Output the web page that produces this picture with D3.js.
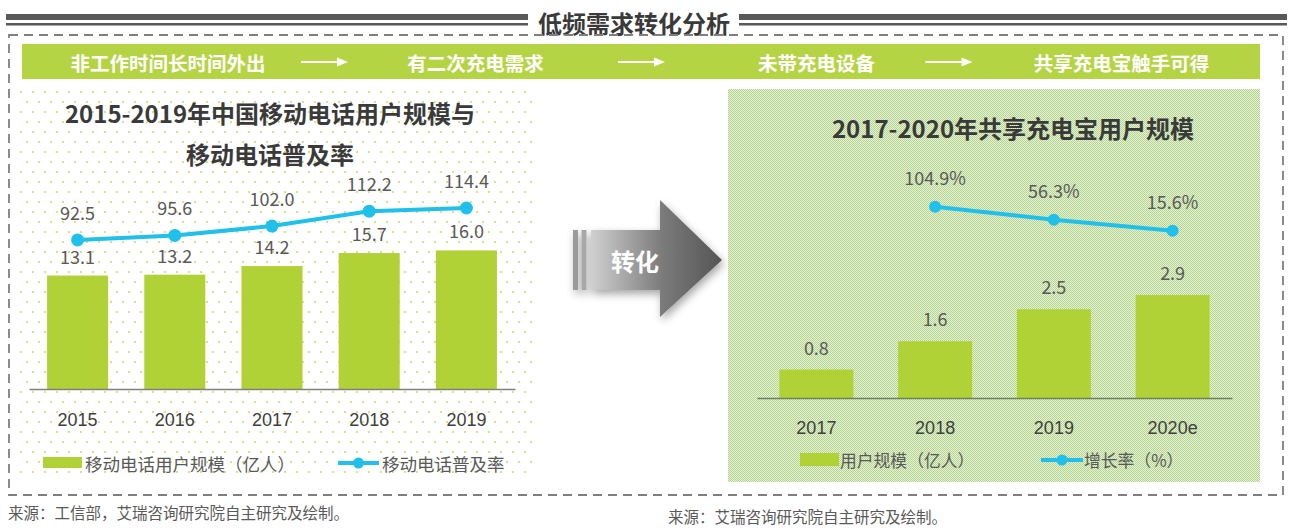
<!DOCTYPE html>
<html><head><meta charset="utf-8">
<script src="https://cdn.jsdelivr.net/npm/d3@7"></script>
<style>html,body{margin:0;padding:0;background:#fff;} svg{display:block;font-family:"Noto Sans CJK SC","Noto Sans",sans-serif;}</style>
</head><body><svg id="c" width="1316" height="531"></svg>
<script>
// ---------- data ----------
const mainTitle = "低频需求转化分析";
const flowSteps = ["非工作时间长时间外出", "有二次充电需求", "未带充电设备", "共享充电宝触手可得"];
const leftTitle = ["2015-2019年中国移动电话用户规模与", "移动电话普及率"];
const leftYears = ["2015", "2016", "2017", "2018", "2019"];
const leftUsers = [13.1, 13.2, 14.2, 15.7, 16.0];
const leftRate = [92.5, 95.6, 102.0, 112.2, 114.4];
const leftLegend = ["移动电话用户规模（亿人）", "移动电话普及率"];
const rightTitle = "2017-2020年共享充电宝用户规模";
const rightYears = ["2017", "2018", "2019", "2020e"];
const rightUsers = [0.8, 1.6, 2.5, 2.9];
const rightGrowth = [null, 104.9, 56.3, 15.6];
const rightLegend = ["用户规模（亿人）", "增长率（%）"];
const arrowLabel = "转化";
const sources = ["来源：工信部，艾瑞咨询研究院自主研究及绘制。", "来源：艾瑞咨询研究院自主研究及绘制。"];

// ---------- styles ----------
const BAR = "#b1d236", LINE = "#20c0ea", BANNER = "#b5d444", DARK = "#3a3a3a", LBL = "#595959";

const svg = d3.select("#c");
const defs = svg.append("defs");

// dotted pattern (left)
const pd = defs.append("pattern").attr("id", "dots").attr("patternUnits", "userSpaceOnUse")
  .attr("width", 12).attr("height", 20);
pd.append("rect").attr("width", 12).attr("height", 20).attr("fill", "#fff");
pd.append("rect").attr("x", 2).attr("y", 1).attr("width", 2).attr("height", 2).attr("fill", "#d3e190");
pd.append("rect").attr("x", 8).attr("y", 11).attr("width", 2).attr("height", 2).attr("fill", "#d3e190");

// checker pattern (right)
const pc = defs.append("pattern").attr("id", "check").attr("patternUnits", "userSpaceOnUse")
  .attr("width", 2).attr("height", 2);
pc.append("rect").attr("width", 2).attr("height", 2).attr("fill", "#e6f2da");
pc.append("rect").attr("width", 1).attr("height", 1).attr("fill", "#b4d48c");
pc.append("rect").attr("x", 1).attr("y", 1).attr("width", 1).attr("height", 1).attr("fill", "#b4d48c");

// arrow gradients
const g1 = defs.append("linearGradient").attr("id", "agrad").attr("x1", 0).attr("x2", 1).attr("y1", 0).attr("y2", 0);
g1.append("stop").attr("offset", "0%").attr("stop-color", "#d0d0d0");
g1.append("stop").attr("offset", "55%").attr("stop-color", "#7a7a7a");
g1.append("stop").attr("offset", "100%").attr("stop-color", "#555");
const f = defs.append("filter").attr("id", "shadow").attr("x", "-20%").attr("y", "-20%").attr("width", "150%").attr("height", "150%");
f.append("feDropShadow").attr("dx", 2).attr("dy", 4).attr("stdDeviation", 4).attr("flood-color", "#000").attr("flood-opacity", 0.35);

// ---------- header ----------
svg.append("rect").attr("x", 6).attr("y", 14).attr("width", 522).attr("height", 6).attr("fill", "#595959");
svg.append("rect").attr("x", 6).attr("y", 23).attr("width", 522).attr("height", 2.5).attr("fill", "#595959");
svg.append("rect").attr("x", 739).attr("y", 14).attr("width", 548).attr("height", 6).attr("fill", "#595959");
svg.append("rect").attr("x", 739).attr("y", 23).attr("width", 548).attr("height", 2.5).attr("fill", "#595959");
svg.append("text").attr("x", 634).attr("y", 22).attr("text-anchor", "middle").attr("dominant-baseline", "central")
  .attr("font-size", 24).attr("font-weight", "bold").attr("fill", DARK).text(mainTitle);

// dashed outer box
svg.append("rect").attr("x", 9).attr("y", 35).attr("width", 1274).attr("height", 460)
  .attr("fill", "none").attr("stroke", "#7f7f7f").attr("stroke-width", 1.8).attr("stroke-dasharray", "9,6");

// banner
svg.append("rect").attr("x", 22).attr("y", 44).attr("width", 1238).attr("height", 35).attr("fill", BANNER);
const stepX = [168, 475.5, 816.5, 1121.5];
flowSteps.forEach((s, i) => {
  svg.append("text").attr("x", stepX[i]).attr("y", 62).attr("text-anchor", "middle").attr("dominant-baseline", "central")
    .attr("font-size", 19.5).attr("font-weight", "bold").attr("fill", "#fff").text(s);
});
[324, 641, 948.5].forEach(cx => {
  svg.append("line").attr("x1", cx - 23).attr("x2", cx + 16).attr("y1", 62).attr("y2", 62).attr("stroke", "#fff").attr("stroke-width", 2);
  svg.append("path").attr("d", `M${cx + 24},62 L${cx + 13},57.5 L${cx + 13},66.5 Z`).attr("fill", "#fff");
});

// ---------- left panel ----------
svg.append("rect").attr("x", 20).attr("y", 88).attr("width", 514).attr("height", 390).attr("fill", "url(#dots)");
leftTitle.forEach((t, i) => {
  svg.append("text").attr("x", 270).attr("y", i === 0 ? 112 : 153).attr("text-anchor", "middle").attr("dominant-baseline", "central")
    .attr("font-size", 24).attr("font-weight", "bold").attr("fill", DARK).text(t);
});
const lx = d3.scaleBand().domain(leftYears).range([29, 515]).paddingInner(0.372).paddingOuter(0.186);
const ly = d3.scaleLinear().domain([0, 20]).range([389, 215.8]);
const lr = d3.scaleLinear().domain([0, 130]).range([375, 185.2]);
const L = svg.append("g");
L.selectAll("rect.bar").data(leftUsers).join("rect").attr("class", "bar")
  .attr("x", (d, i) => lx(leftYears[i])).attr("width", lx.bandwidth())
  .attr("y", d => ly(d)).attr("height", d => ly(0) - ly(d)).attr("fill", BAR);
const lAxis = L.append("g").attr("transform", "translate(0,389)").call(d3.axisBottom(lx).tickSize(0).tickPadding(22));
lAxis.select(".domain").attr("stroke", "#808080").attr("stroke-width", 1.5);
lAxis.selectAll("text").attr("font-size", 18).attr("fill", "#404040").attr("font-family", null).attr("dy", "0.32em").attr("y", 31);
L.selectAll("text.bl").data(leftUsers).join("text").attr("class", "bl")
  .attr("x", (d, i) => lx(leftYears[i]) + lx.bandwidth() / 2).attr("y", d => ly(d) - 20)
  .attr("text-anchor", "middle").attr("dominant-baseline", "central").attr("font-size", 18).attr("fill", LBL)
  .text(d => d.toFixed(1));
const lline = d3.line().x((d, i) => lx(leftYears[i]) + lx.bandwidth() / 2).y(d => lr(d));
L.append("path").datum(leftRate).attr("d", lline).attr("fill", "none").attr("stroke", LINE).attr("stroke-width", 4);
L.selectAll("circle.pt").data(leftRate).join("circle").attr("class", "pt")
  .attr("cx", (d, i) => lx(leftYears[i]) + lx.bandwidth() / 2).attr("cy", d => lr(d)).attr("r", 6.5).attr("fill", LINE);
L.selectAll("text.ll").data(leftRate).join("text").attr("class", "ll")
  .attr("x", (d, i) => lx(leftYears[i]) + lx.bandwidth() / 2).attr("y", d => lr(d) - 28)
  .attr("text-anchor", "middle").attr("dominant-baseline", "central").attr("font-size", 18).attr("fill", LBL)
  .text(d => d.toFixed(1));
// legend
L.append("rect").attr("x", 43).attr("y", 457).attr("width", 39).attr("height", 11).attr("fill", BAR);
L.append("text").attr("x", 85).attr("y", 463).attr("dominant-baseline", "central").attr("font-size", 17.5).attr("fill", LBL).text(leftLegend[0]);
L.append("line").attr("x1", 338).attr("x2", 379).attr("y1", 463).attr("y2", 463).attr("stroke", LINE).attr("stroke-width", 4);
L.append("circle").attr("cx", 358.5).attr("cy", 463).attr("r", 5.5).attr("fill", LINE);
L.append("text").attr("x", 382).attr("y", 463).attr("dominant-baseline", "central").attr("font-size", 17.5).attr("fill", LBL).text(leftLegend[1]);

// ---------- middle arrow ----------
const A = svg.append("g").attr("filter", "url(#shadow)");
A.append("rect").attr("x", 573).attr("y", 230).attr("width", 5).attr("height", 60).attr("fill", "#9a9a9a");
A.append("rect").attr("x", 581.5).attr("y", 230).attr("width", 5).attr("height", 60).attr("fill", "#a8a8a8");
A.append("path").attr("d", "M591,230 L660,230 L660,200 L722,260 L660,317 L660,290 L591,290 Z").attr("fill", "url(#agrad)");
svg.append("text").attr("x", 635).attr("y", 260).attr("text-anchor", "middle").attr("dominant-baseline", "central")
  .attr("font-size", 24).attr("font-weight", "bold").attr("fill", "#fff").text(arrowLabel);

// ---------- right panel ----------
svg.append("rect").attr("x", 728).attr("y", 89).attr("width", 532).attr("height", 393).attr("fill", "url(#check)");
svg.append("text").attr("x", 1013).attr("y", 127).attr("text-anchor", "middle").attr("dominant-baseline", "central")
  .attr("font-size", 24).attr("font-weight", "bold").attr("fill", DARK).text(rightTitle);
const rx = d3.scaleBand().domain(rightYears).range([757, 1232]).paddingInner(0.377).paddingOuter(0.1885);
const ry = d3.scaleLinear().domain([0, 4]).range([398, 256]);
const rg = d3.scaleLinear().domain([0, 100]).range([234.9, 208.0]);
const R = svg.append("g");
R.selectAll("rect.bar").data(rightUsers).join("rect").attr("class", "bar")
  .attr("x", (d, i) => rx(rightYears[i])).attr("width", rx.bandwidth())
  .attr("y", d => ry(d)).attr("height", d => ry(0) - ry(d)).attr("fill", BAR);
const rAxis = R.append("g").attr("transform", "translate(0,398)").call(d3.axisBottom(rx).tickSize(0));
rAxis.select(".domain").attr("stroke", "#6f7f62").attr("stroke-width", 1.5);
rAxis.selectAll("text").attr("font-size", 18).attr("fill", "#404040").attr("font-family", null).attr("dy", "0.32em").attr("y", 30);
R.selectAll("text.bl").data(rightUsers).join("text").attr("class", "bl")
  .attr("x", (d, i) => rx(rightYears[i]) + rx.bandwidth() / 2).attr("y", d => ry(d) - 23)
  .attr("text-anchor", "middle").attr("dominant-baseline", "central").attr("font-size", 18).attr("fill", LBL)
  .text(d => d.toFixed(1));
const gPts = rightGrowth.map((v, i) => ({ v, k: rightYears[i] })).filter(d => d.v !== null);
const rline = d3.line().x(d => rx(d.k) + rx.bandwidth() / 2).y(d => rg(d.v));
R.append("path").datum(gPts).attr("d", rline).attr("fill", "none").attr("stroke", LINE).attr("stroke-width", 4);
R.selectAll("circle.pt").data(gPts).join("circle").attr("class", "pt")
  .attr("cx", d => rx(d.k) + rx.bandwidth() / 2).attr("cy", d => rg(d.v)).attr("r", 6).attr("fill", LINE);
R.selectAll("text.gl").data(gPts).join("text").attr("class", "gl")
  .attr("x", d => rx(d.k) + rx.bandwidth() / 2).attr("y", d => rg(d.v) - 30)
  .attr("text-anchor", "middle").attr("dominant-baseline", "central").attr("font-size", 18).attr("fill", LBL)
  .text(d => d.v.toFixed(1) + "%");
// legend
R.append("rect").attr("x", 800).attr("y", 453).attr("width", 39).attr("height", 13).attr("fill", BAR);
R.append("text").attr("x", 840).attr("y", 460).attr("dominant-baseline", "central").attr("font-size", 16.8).attr("fill", LBL).text(rightLegend[0]);
R.append("line").attr("x1", 1041).attr("x2", 1083).attr("y1", 460).attr("y2", 460).attr("stroke", LINE).attr("stroke-width", 4);
R.append("circle").attr("cx", 1062).attr("cy", 460).attr("r", 5.5).attr("fill", LINE);
R.append("text").attr("x", 1084).attr("y", 460).attr("dominant-baseline", "central").attr("font-size", 16.8).attr("fill", LBL).text(rightLegend[1]);

// ---------- sources ----------
svg.append("text").attr("x", 8).attr("y", 512).attr("dominant-baseline", "central").attr("font-size", 15.5).attr("fill", "#595959").text(sources[0]);
svg.append("text").attr("x", 668).attr("y", 516).attr("dominant-baseline", "central").attr("font-size", 15.5).attr("fill", "#595959").text(sources[1]);
</script></body></html>
